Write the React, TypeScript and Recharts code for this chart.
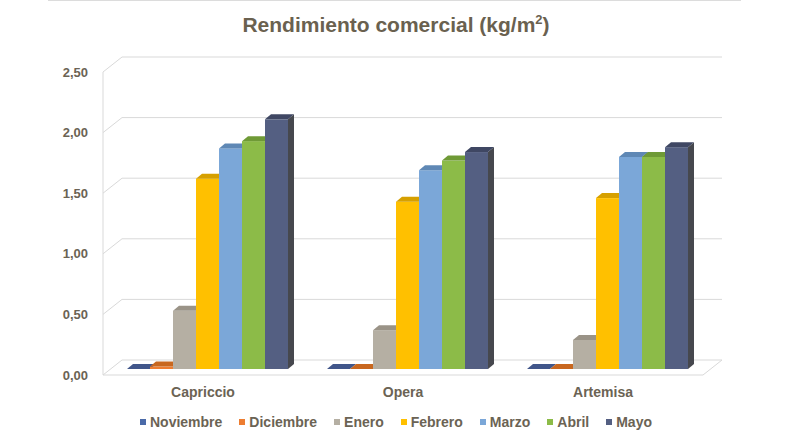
import React from 'react';
import { BarChart, Bar, XAxis, YAxis, CartesianGrid, Legend } from 'recharts';

const variedades = ['Capriccio', 'Opera', 'Artemisa'];
const meses = ['Noviembre', 'Diciembre', 'Enero', 'Febrero', 'Marzo', 'Abril', 'Mayo'];

// kg/m2 per month, same order as variedades
const noviembre = [0, 0, 0];
const diciembre = [0.02, 0, 0];
const enero = [0.48, 0.32, 0.24];
const febrero = [1.57, 1.38, 1.41];
const marzo = [1.82, 1.64, 1.75];
const abril = [1.88, 1.72, 1.75];
const mayo = [2.06, 1.79, 1.83];

const yTicks = [0, 0.5, 1, 1.5, 2, 2.5];

const series = [noviembre, diciembre, enero, febrero, marzo, abril, mayo];

// front, top, side
const colores = [
  ['#4a6aa8', '#41568a', '#39476b'],
  ['#ed7d31', '#c8671f', '#a85518'],
  ['#b5afa3', '#9a9387', '#7f796f'],
  ['#ffc000', '#d6a000', '#b08400'],
  ['#7ba7d8', '#5f88b5', '#4e6f94'],
  ['#8cbb48', '#6f9a36', '#5a7d2b'],
  ['#545f82', '#3f4763', '#46484e'],
];

const data = variedades.map((v, i) => {
  const row: Record<string, string | number> = { name: v };
  meses.forEach((m, j) => {
    row[m] = series[j][i];
  });
  return row;
});

const TEXT = '#6b6354';
const GRID = '#d9d9d9';
const FONT = '"Liberation Sans", Arial, sans-serif';

// depth offsets of the 3D look
const DX = 6;
const DY = 5;

const makeShape = (c: string[]) => (p: any) => {
  const { x, y, width, height } = p;
  const h = Math.max(0, height || 0);
  return (
    <g>
      <path
        d={`M${x + width},${y} L${x + width + DX},${y - DY} L${x + width + DX},${y + h - DY} L${x + width},${y + h} Z`}
        fill={c[2]}
      />
      {h > 0 && <rect x={x} y={y} width={width} height={h} fill={c[0]} />}
      <path
        d={`M${x},${y} L${x + DX},${y - DY} L${x + width + DX},${y - DY} L${x + width},${y} Z`}
        fill={c[1]}
      />
    </g>
  );
};

const gridLine = (p: any) => {
  const { x1, x2, y1, y, height, index } = p;
  const fl = x1 - 6;
  const bl = x1 + 13;
  const br = x2 + 13;
  const top = Math.abs(y1 - y) < 0.5;
  const bottom = Math.abs(y1 - (y + height)) < 0.5;
  return (
    <g key={'gl' + index}>
      <path d={`M${fl},${y1 + 6} L${bl},${y1 - 9} L${br},${y1 - 9}`} stroke={GRID} fill="none" />
      {top && <line x1={fl} y1={y1 + 6} x2={fl} y2={y + height + 6} stroke={GRID} />}
      {bottom && (
        <path d={`M${fl},${y1 + 6} L${x2 - 6},${y1 + 6} L${br},${y1 - 9}`} stroke={GRID} fill="none" />
      )}
    </g>
  );
};

const YTick = (p: any) => (
  <text x={p.x - 21} y={p.y + 6} dy="0.35em" textAnchor="end" fill={TEXT} fontSize={13} fontWeight="bold" fontFamily={FONT}>
    {Number(p.payload.value).toFixed(2).replace('.', ',')}
  </text>
);

const XTick = (p: any) => (
  <text x={p.x - 6} y={p.y + 28} textAnchor="middle" fill={TEXT} fontSize={14} fontWeight="bold" fontFamily={FONT}>
    {p.payload.value}
  </text>
);

const Leyenda = (props: any) => {
  const items = [...(props.payload || [])].sort(
    (a: any, b: any) => meses.indexOf(a.value) - meses.indexOf(b.value)
  );
  return (
    <div style={{ display: 'flex', justifyContent: 'center', gap: 17, fontFamily: FONT, fontSize: 14, fontWeight: 'bold', color: TEXT, lineHeight: '20px' }}>
      {items.map((e: any, i: number) => (
        <div key={i} style={{ display: 'flex', alignItems: 'center' }}>
          <span style={{ width: 6, height: 6, background: colores[meses.indexOf(e.value)][0], marginRight: 4 }} />
          <span>{e.value}</span>
        </div>
      ))}
    </div>
  );
};

export default function App() {
  return (
    <div style={{ position: 'absolute', left: 0, top: 0, width: 792, height: 446, background: '#fff' }}>
      <div style={{ position: 'absolute', left: 48, width: 693, top: 0, height: 445, borderTop: '1px solid #dcdcdc', borderBottom: '1px solid #dcdcdc' }} />
      <div
        style={{
          position: 'absolute',
          top: 13,
          left: 0,
          width: 792,
          textAlign: 'center',
          fontFamily: FONT,
          fontWeight: 'bold',
          fontSize: 21,
          lineHeight: '24px',
          color: '#6a614f',
        }}
      >
        Rendimiento comercial (kg/m<sup style={{ fontSize: 13, lineHeight: 0 }}>2</sup>)
      </div>
      <div style={{ position: 'absolute', left: 0, top: 0 }}>
        <BarChart
          width={792}
          height={446}
          data={data}
          margin={{ top: 66, right: 83, bottom: 47, left: 0 }}
          barCategoryGap={18}
          barGap={0}
        >
          <CartesianGrid vertical={false} horizontal={gridLine} />
          <XAxis dataKey="name" height={30} axisLine={false} tickLine={false} tickSize={0} tickMargin={0} tick={XTick} />
          <YAxis
            width={109}
            domain={[0, 2.5]}
            ticks={yTicks}
            axisLine={false}
            tickLine={false}
            tickSize={0}
            tickMargin={0}
            tick={YTick}
          />
          <Legend
            layout="horizontal"
            verticalAlign="middle"
            align="center"
            wrapperStyle={{ top: 412, left: 0, width: 792 }}
            content={Leyenda}
          />
          {meses.map((m, i) => (
            <Bar key={m} dataKey={m} fill={colores[i][0]} shape={makeShape(colores[i])} isAnimationActive={false} />
          ))}
        </BarChart>
      </div>
    </div>
  );
}
